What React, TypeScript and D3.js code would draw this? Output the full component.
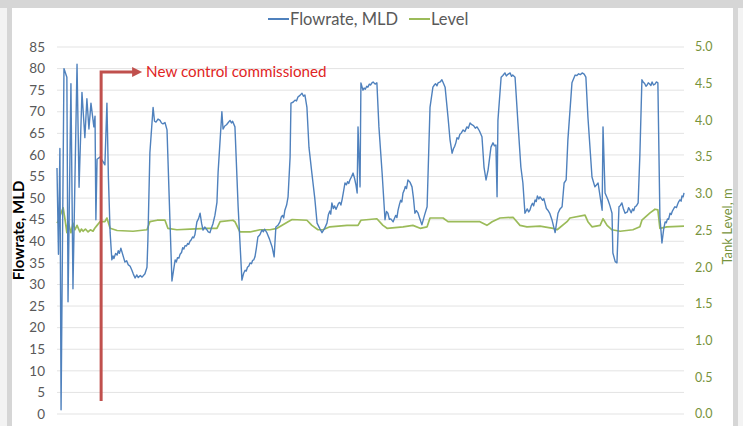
import React from "react";
import * as d3 from "d3";

// [hour, flow MLD]
const flowReadings: [number, number][] = [
  [0, 57], [0.5, 37], [1.0, 61.5], [1.4, 1], [2.4, 80], [3.4, 78], [3.8, 26], [4.8, 76.5],
  [5.5, 29], [6.9, 81], [7.6, 52.5], [8.6, 74.5], [9.6, 64], [10.3, 73], [11.0, 66], [11.7, 72],
  [12.7, 66.5], [13.1, 69], [13.4, 45], [13.8, 59], [14.8, 59.5], [15.8, 58.5], [16.5, 57.7],
  [17.2, 72], [17.7, 55], [18.3, 42], [18.9, 35.7], [19.3, 36.6], [19.6, 36], [20.2, 37.2],
  [20.7, 36.8], [21.1, 37.8], [21.5, 37.2], [22.0, 38.4], [22.4, 37.5], [23.0, 36.1], [23.4, 35.2],
  [24.0, 35.5], [24.5, 34.6], [25.2, 34.2], [25.8, 33.3], [26.3, 32.4], [26.9, 31.5], [27.5, 32.2],
  [28, 31.6], [28.7, 32.1], [29.3, 31.7], [30.3, 32.5], [31.0, 34], [31.3, 40], [32.0, 60.5],
  [33.1, 71], [33.6, 67.8], [34.1, 67.6], [34.8, 68.3], [35.5, 68], [36.0, 67.4], [36.5, 67.2],
  [37.2, 67.5], [37.9, 65.8], [38.9, 45], [39.6, 30.8], [40.2, 33.5], [40.7, 35.7], [41.1, 35.2],
  [41.5, 36.2], [42.0, 36.1], [42.4, 37], [42.9, 37.4], [43.3, 38.5], [43.7, 38.2], [44.1, 39],
  [44.6, 38.9], [45.0, 39.5], [45.4, 39.3], [45.8, 40], [46.2, 40.3], [46.7, 41], [47.1, 40.8],
  [47.5, 41.5], [48.2, 44.5], [48.8, 45.3], [49.3, 46.5], [49.8, 44.2], [50.3, 42.6], [50.9, 43.3],
  [51.5, 42.8], [52.1, 42.2], [52.7, 42], [53.2, 43.1], [53.7, 44], [54.4, 46], [55.1, 49],
  [55.5, 56], [56.8, 70], [57.2, 66], [57.8, 66.7], [58.4, 67], [59.0, 67.5], [59.6, 68],
  [60.1, 67.4], [60.5, 67.8], [61.3, 66.5], [62.4, 48], [63.7, 31], [64.3, 32.6], [64.8, 33.3],
  [65.2, 33.1], [65.6, 34], [66.1, 34.3], [66.5, 35], [67.0, 34.8], [67.4, 35.6], [67.8, 35.7],
  [68.2, 36.4], [68.7, 38.5], [69.2, 41], [69.9, 41.5], [70.6, 42.6], [71.1, 42.2], [71.5, 42.8],
  [72.3, 42], [73.2, 40.5], [74.1, 38.7], [74.8, 36.4], [75.4, 43.3], [76.1, 43.7], [76.8, 44.5],
  [77.3, 45.7], [77.7, 46], [78.1, 45.4], [78.5, 47.2], [79.1, 48.4], [79.6, 50.3], [80.3, 59.5],
  [80.6, 72], [81.3, 72.2], [82.0, 72.7], [82.5, 72.5], [83.0, 73.4], [83.7, 73.8], [84.4, 74.3],
  [84.9, 73.6], [85.4, 73.9], [86.1, 71], [86.8, 61.8], [87.8, 55.8], [88.8, 50], [89.6, 44.2],
  [90.5, 43], [91.3, 42], [92.2, 43], [93.0, 44.2], [93.5, 46.2], [94.0, 47], [94.3, 46.3],
  [94.7, 48.9], [95.2, 47.6], [95.6, 48.2], [96.1, 47.4], [96.5, 48], [97.0, 48.8], [97.4, 49],
  [97.8, 48.4], [98.2, 49.6], [98.7, 51.5], [99.2, 53.5], [99.7, 53.1], [100.1, 53.8],
  [100.5, 53.4], [100.9, 54.2], [101.5, 55], [102.0, 55.8], [102.5, 54.6], [103.0, 53],
  [103.4, 51.2], [103.7, 66.5], [104.4, 52.6], [104.7, 76.7], [105.4, 75], [105.8, 75.5],
  [106.2, 75.2], [106.7, 75.9], [107.1, 75.7], [107.6, 76.4], [108.0, 76.2], [108.5, 76.7],
  [108.9, 76.9], [109.6, 76.4], [110.2, 76.7], [110.9, 66.5], [112.0, 55.8], [113.0, 45],
  [113.5, 46.9], [114.0, 46.5], [114.5, 45.1], [115.0, 45.2], [115.8, 44.5], [116.3, 45.4],
  [116.7, 46], [117.1, 45.5], [117.5, 47.2], [118.0, 48.6], [118.4, 49.5], [118.8, 49.1],
  [119.2, 51.2], [119.6, 51.8], [120.0, 52.7], [120.4, 52.2], [120.9, 54.2], [121.6, 53.7],
  [122.3, 52.6], [122.8, 50], [123.3, 46.5], [123.8, 47.1], [124.4, 46.5], [125.0, 45.2],
  [125.7, 43.8], [126.6, 46], [127.5, 48], [128.5, 71], [129.5, 75.7], [130.0, 76.2],
  [130.4, 76.5], [130.9, 76], [131.3, 76.7], [132.0, 76.9], [132.6, 77.4], [133.2, 76.5],
  [133.7, 75.7], [134.7, 68.8], [135.4, 63.5], [136.1, 60.4], [136.6, 61.5], [137.0, 62],
  [137.4, 62.8], [137.8, 64], [138.3, 63.7], [138.8, 64.8], [139.3, 65.1], [139.9, 65.8],
  [140.5, 65.4], [141.2, 66.5], [141.7, 66.2], [142.3, 67.4], [142.9, 67], [143.5, 66.8],
  [144.1, 66.2], [144.7, 66.5], [145.5, 65.6], [146.4, 64.2], [147.1, 57.2], [147.8, 54.2],
  [148.5, 56.5], [149.5, 61.8], [150.2, 62.8], [150.7, 62.1], [151.2, 62.3], [151.6, 50.3],
  [151.9, 68], [153.0, 78], [153.6, 78.4], [154.3, 79], [154.8, 78.3], [155.2, 78.6],
  [156.1, 79], [156.6, 78.2], [157.0, 78.5], [157.8, 78], [158.8, 67.4], [159.8, 57.2],
  [160.5, 53.5], [161.2, 46.5], [162.0, 47.5], [162.5, 46.8], [162.9, 47.2], [163.4, 48.3],
  [163.8, 48.8], [164.2, 48.2], [164.7, 49.6], [165.1, 49.2], [165.5, 50.5], [166.0, 49.8],
  [166.4, 50.3], [167.3, 49.5], [167.7, 49.9], [168.1, 48.9], [168.6, 47.6], [169.1, 47.2],
  [169.8, 46.4], [170.5, 45], [171.6, 42], [172.6, 46.5], [173.3, 47.5], [174.0, 48],
  [174.7, 53.5], [175.4, 54.2], [176.0, 63.5], [177.4, 76.7], [178.5, 78.5], [179.1, 78.4],
  [179.7, 78.8], [180.3, 78.6], [180.9, 79], [181.6, 78.7], [182.2, 78], [182.9, 68.8],
  [184.3, 54.9], [185.3, 52.6], [186.4, 53.5], [187.8, 47.2], [188.1, 66.5], [188.8, 51.2],
  [189.8, 49.6], [190.5, 48.2], [191.2, 46.5], [191.5, 37.3], [192.3, 35.3], [192.9, 35],
  [193.6, 48], [194.1, 48.3], [194.6, 48.9], [195.1, 47.6], [195.7, 46.5], [196.5, 46.8],
  [196.9, 47.8], [197.4, 47.2], [197.8, 46.6], [198.3, 47.5], [198.7, 47.1], [199.1, 48],
  [199.6, 48.2], [200.2, 48.9], [200.8, 60], [201.5, 77.4], [202.0, 76.8], [202.4, 76.6],
  [202.9, 75.9], [203.3, 76.2], [203.7, 76.7], [204.1, 76.5], [204.6, 76.1], [205.0, 76.9],
  [205.5, 76.2], [206.0, 76.4], [206.5, 76.9], [207.0, 76.7], [207.7, 45.6], [208.4, 39.6],
  [209.0, 42.8], [209.5, 44.5], [209.9, 44.3], [210.3, 45.2], [210.7, 45.1], [211.2, 46.5],
  [211.6, 46.2], [212.0, 47], [212.5, 47.6], [212.9, 48], [213.4, 47.8], [213.8, 48.6],
  [214.2, 49.2], [214.6, 49.6], [215.0, 49.3], [215.3, 50.5], [215.7, 50.3], [216.0, 51.2],
];

// [hour, tank level m]
const levelReadings: [number, number][] = [
  [0, 2.6], [0.3, 2.62], [2.1, 2.81], [2.8, 2.64], [3.4, 2.47], [3.8, 2.62], [4.8, 2.47],
  [5.5, 2.6], [6.2, 2.51], [6.9, 2.57], [7.9, 2.48], [8.4, 2.52], [9.0, 2.49], [9.8, 2.52],
  [10.7, 2.48], [11.5, 2.51], [12.4, 2.49], [13.0, 2.53], [13.8, 2.57], [14.8, 2.62],
  [16.5, 2.62], [17.2, 2.67], [18.3, 2.53], [20.7, 2.5], [26.2, 2.49], [31.0, 2.51], [32.0, 2.62],
  [34.5, 2.64], [37.2, 2.64], [38.2, 2.53], [41.3, 2.51], [45.8, 2.52], [51.7, 2.53], [55.1, 2.53],
  [56.2, 2.62], [60.6, 2.64], [61.3, 2.62], [63.0, 2.48], [66.5, 2.48], [69.9, 2.51], [73.4, 2.51],
  [75.8, 2.53], [79.6, 2.62], [81.0, 2.65], [86.1, 2.64], [87.8, 2.57], [89.9, 2.51], [91.6, 2.51],
  [94.0, 2.55], [99.9, 2.57], [103.7, 2.57], [104.7, 2.64], [110.2, 2.66], [112.3, 2.57],
  [113.7, 2.53], [119.2, 2.55], [122.6, 2.57], [125.1, 2.53], [127.5, 2.55], [128.5, 2.67],
  [133.0, 2.67], [134.7, 2.62], [139.9, 2.62], [145.7, 2.62], [148.1, 2.57], [149.9, 2.62],
  [152.6, 2.67], [157.1, 2.68], [159.5, 2.57], [161.9, 2.55], [166.4, 2.56], [170.9, 2.53],
  [172.3, 2.51], [175.7, 2.62], [176.7, 2.67], [181.9, 2.71], [182.9, 2.62], [184.3, 2.55],
  [187.1, 2.57], [188.1, 2.66], [189.5, 2.57], [191.2, 2.51], [194.0, 2.49], [198.4, 2.51],
  [200.8, 2.55], [201.5, 2.64], [204.3, 2.74], [206.0, 2.79], [207.0, 2.78], [207.7, 2.53],
  [210.1, 2.55], [216.0, 2.56],
];

const flowTicks = d3.range(0, 86, 5);
const levelTicks = d3.range(0, 5.01, 0.5);
const commissionedHour = 15.2;

const W = 743;
const H = 426;
const FONT = "Lato, 'Liberation Sans', sans-serif";

export default function App() {
  const x = d3.scaleLinear().domain([0, 216]).range([57, 684]);
  const yFlow = d3.scaleLinear().domain([0, 85]).range([414, 47]);
  const yLevel = d3.scaleLinear().domain([0, 5]).range([414, 47]);

  const flowLine = d3.line<[number, number]>().x((d) => x(d[0])).y((d) => yFlow(d[1]));
  const levelLine = d3.line<[number, number]>().x((d) => x(d[0])).y((d) => yLevel(d[1]));

  const ax = x(commissionedHour);
  const aTop = yFlow(79.2);
  const aBottom = yFlow(3);

  return (
    <svg width={W} height={H} style={{ position: "absolute", left: 0, top: 0 }} fontFamily={FONT}>
      {/* window frame behind the chart */}
      <rect x={0} y={0} width={W} height={H} fill="#f3f3f3" />
      <rect x={0} y={0} width={W} height={8} fill="#d6d6d6" />
      <rect x={7} y={0} width={5} height={H} fill="#d6d6d6" />
      <rect x={733} y={0} width={5} height={H} fill="#d6d6d6" />
      <rect x={12} y={8} width={721} height={H - 8} fill="#ffffff" />

      {/* gridlines */}
      {flowTicks.map((t) => (
        <line key={t} x1={57} x2={684} y1={yFlow(t)} y2={yFlow(t)} stroke="#e3e3e3" strokeWidth={1} />
      ))}

      {/* left axis labels */}
      {flowTicks.map((t) => (
        <text key={t} x={45} y={yFlow(t)} dy="0.35em" textAnchor="end" fontSize={13.5} fill="#595959">
          {t}
        </text>
      ))}

      {/* right axis labels */}
      {levelTicks.map((t) => (
        <text key={t} x={695} y={yLevel(t)} dy="0.35em" fontSize={12.5} fill="#77933c">
          {t.toFixed(1)}
        </text>
      ))}

      <text
        transform={`translate(24,${(47 + 414) / 2}) rotate(-90)`}
        textAnchor="middle"
        fontSize={15}
        fontWeight="bold"
        fill="#000"
      >
        Flowrate, MLD
      </text>
      <text
        transform={`translate(732,${(47 + 414) / 2 - 4}) rotate(-90)`}
        textAnchor="middle"
        fontSize={13}
        fill="#77933c"
      >
        Tank Level, m
      </text>

      {/* series */}
      <path d={levelLine(levelReadings) ?? ""} fill="none" stroke="#9bbb59" strokeWidth={1.7} strokeLinejoin="round" />
      <path d={flowLine(flowReadings) ?? ""} fill="none" stroke="#4f81bd" strokeWidth={1.4} strokeLinejoin="round" />

      {/* annotation */}
      <path
        d={`M${ax},${aBottom} L${ax},${aTop} L${ax + 32},${aTop}`}
        fill="none"
        stroke="#c0504d"
        strokeWidth={3}
      />
      <path d={`M${ax + 31},${aTop - 5} L${ax + 41},${aTop} L${ax + 31},${aTop + 5} Z`} fill="#c0504d" />
      <text x={ax + 45} y={aTop} dy="0.35em" fontSize={15.2} fill="#e02424">
        New control commissioned
      </text>

      {/* legend */}
      <line x1={268} x2={289} y1={19} y2={19} stroke="#4f81bd" strokeWidth={2} />
      <text x={290} y={19} dy="0.35em" fontSize={16.5} fill="#595959">
        Flowrate, MLD
      </text>
      <line x1={409} x2={430} y1={19} y2={19} stroke="#9bbb59" strokeWidth={2} />
      <text x={431} y={19} dy="0.35em" fontSize={16.5} fill="#595959">
        Level
      </text>
    </svg>
  );
}
